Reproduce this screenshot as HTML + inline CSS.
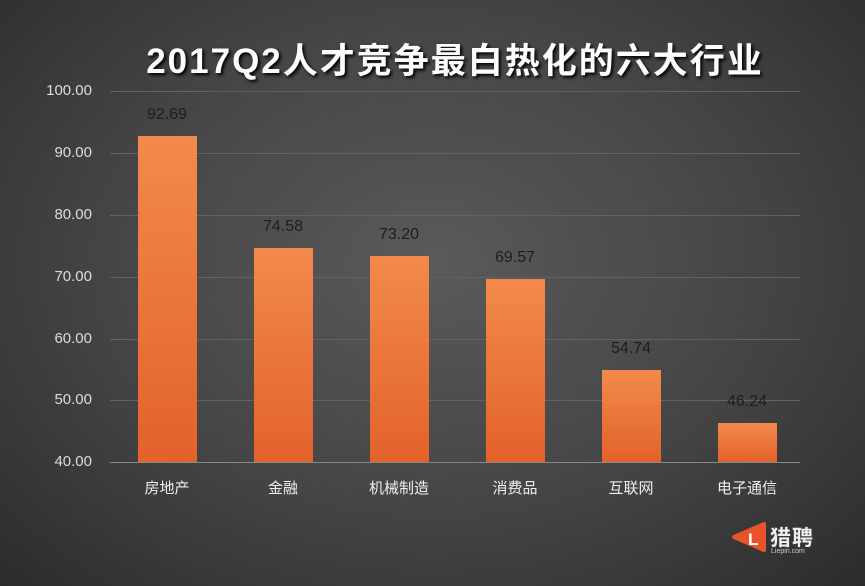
<!DOCTYPE html><html><head><meta charset="utf-8"><style>
body{margin:0;width:865px;height:586px;overflow:hidden;background:radial-gradient(ellipse at 50% 45%,#5a5a5a 0%,#444 55%,#2c2c2c 100%);font-family:"Liberation Sans","Noto Sans CJK SC",sans-serif;position:relative}
.t{position:absolute;left:0;width:910px;text-align:center;top:33px;font-size:35px;font-weight:bold;color:#fff;text-shadow:2px 2px 3px #000;letter-spacing:2px}
.g{position:absolute;left:110px;width:690px;height:1px;background:#626262}
.yl{position:absolute;left:20px;width:72px;text-align:right;font-size:15px;color:#ddd}
.b{position:absolute;width:59px;background:linear-gradient(#f28a4c,#e2622a);bottom:124px}
.v{position:absolute;width:100px;text-align:center;font-size:16px;color:#1e1e1e}
.x{position:absolute;width:120px;text-align:center;top:477px;font-size:15px;color:#eee}
</style></head><body>
<div class="t">2017Q2人才竞争最白热化的六大行业</div>
<div class="g" style="top:91px"></div><div class="g" style="top:153px"></div><div class="g" style="top:215px"></div><div class="g" style="top:277px"></div><div class="g" style="top:339px"></div><div class="g" style="top:400px"></div><div class="g" style="top:462px;background:#888"></div>
<div class="yl" style="top:82px">100.00</div><div class="yl" style="top:144px">90.00</div><div class="yl" style="top:206px">80.00</div><div class="yl" style="top:268px">70.00</div><div class="yl" style="top:330px">60.00</div><div class="yl" style="top:391px">50.00</div><div class="yl" style="top:453px">40.00</div>
<div class="b" style="left:138px;top:136px;height:326px"></div>
<div class="b" style="left:254px;top:248px;height:214px"></div>
<div class="b" style="left:370px;top:256px;height:206px"></div>
<div class="b" style="left:486px;top:279px;height:183px"></div>
<div class="b" style="left:602px;top:370px;height:92px"></div>
<div class="b" style="left:718px;top:423px;height:39px"></div>
<div class="v" style="left:117px;top:106px">92.69</div>
<div class="v" style="left:233px;top:218px">74.58</div>
<div class="v" style="left:349px;top:226px">73.20</div>
<div class="v" style="left:465px;top:249px">69.57</div>
<div class="v" style="left:581px;top:340px">54.74</div>
<div class="v" style="left:697px;top:393px">46.24</div>
<div class="x" style="left:107px">房地产</div><div class="x" style="left:223px">金融</div><div class="x" style="left:339px">机械制造</div><div class="x" style="left:455px">消费品</div><div class="x" style="left:571px">互联网</div><div class="x" style="left:687px">电子通信</div>
<svg style="position:absolute;left:730px;top:520px" width="40" height="34"><path d="M4,17 L34,4 L34,30 Z" fill="#e8532a" stroke="#e8532a" stroke-width="4" stroke-linejoin="round"/><text x="18" y="25" font-size="17" font-weight="bold" fill="#fff" font-family="Liberation Sans">L</text></svg>
<div style="position:absolute;left:770px;top:522px;font-size:21px;color:#eee;font-weight:bold;letter-spacing:1px">猎聘</div>
<div style="position:absolute;left:771px;top:548px;font-size:7px;color:#ccc">Liepin.com</div>
</body></html>
